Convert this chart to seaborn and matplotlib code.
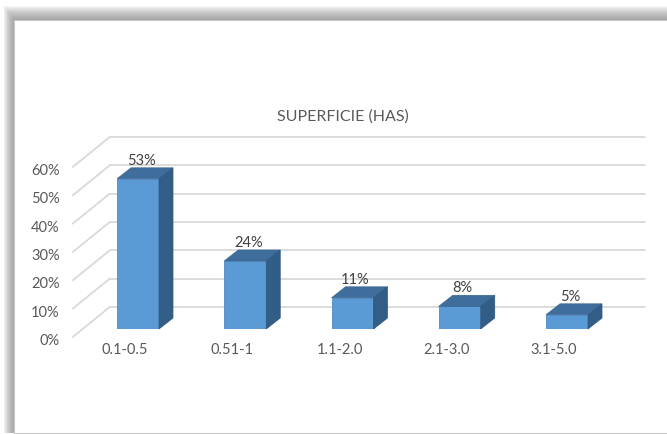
import numpy as np
import pandas as pd
import matplotlib
matplotlib.use("Agg")
import matplotlib.pyplot as plt
import matplotlib.transforms as mtransforms
from matplotlib.patches import Polygon, Rectangle
import seaborn as sns

categories = ["0.1-0.5", "0.51-1", "1.1-2.0", "2.1-3.0", "3.1-5.0"]
shares = [53, 24, 11, 8, 5]
y_ticks = [0, 10, 20, 30, 40, 50, 60]
title = "SUPERFICIE (HAS)"

df = pd.DataFrame({"rango": categories, "pct": shares})

sns.set_theme(style="white")
plt.rcParams["font.family"] = ["Lato", "DejaVu Sans"]

W, H = 667, 435
fig = plt.figure(figsize=(W / 100, H / 100), dpi=100)
fig.patch.set_facecolor("white")

def px_box(x0, y0, x1, y1):
    # pixel box (top-left origin) -> figure fraction rectangle
    return (x0 / W, 1 - y1 / H, (x1 - x0) / W, (y1 - y0) / H)

# soft drop shadow round the chart frame (top and left)
for k in range(15):
    x, y, w, h = px_box(14 - 0.75 * k, 21 - k, W + 20, H - 1)
    fig.patches.append(Rectangle((x, y), w, h, transform=fig.transFigure,
                                 facecolor="#7a7a7a", alpha=0.065, edgecolor="none", zorder=-3))
x, y, w, h = px_box(14, 21, W + 5, H - 1.5)
fig.patches.append(Rectangle((x, y), w, h, transform=fig.transFigure,
                             facecolor="white", edgecolor="#c8c8c8", lw=0.8, zorder=-2))

# axes placed so bar plane: x=0 -> 138px, step 107.25px; y=0 -> 330px, 60% -> 160px
left_px = 138 - 0.6 * 107.25
right_px = 138 + 4.75 * 107.25
ax = fig.add_axes([left_px / W, (H - 330) / H, (right_px - left_px) / W, 170 / H])
ax.set_zorder(2)

def shift(dx, dy):
    return ax.transData + mtransforms.ScaledTranslation(dx / 100, dy / 100, fig.dpi_scale_trans)

sns.barplot(data=df, x="rango", y="pct", color="#5b9bd5", width=42 / 107.25,
            saturation=1, ax=ax, zorder=3, edgecolor="#4f8ac4", linewidth=0.6)
ax.set_facecolor("none")
ax.set_xlim(-0.6, 4.75)
ax.set_ylim(0, 60)
ax.axis("off")

back = shift(20, 22)
front = shift(-17, -8)
grid_c = "#d9d9d9"

for v in y_ticks:
    ax.plot([-0.45, 4.54], [v, v], color=grid_c, lw=1.3, transform=back, clip_on=False, zorder=1)
    p0 = front.transform((-0.45, v))
    p1 = back.transform((-0.45, v))
    fig.add_artist(plt.Line2D([p0[0], p1[0]], [p0[1], p1[1]], color=grid_c, lw=1.3,
                              transform=None, zorder=1))
    ax.text(-0.45, v, f"{v}%", transform=shift(-30, -11), ha="right", va="center",
            fontsize=10.5, color="#595959")

ddx, ddy = 14, 11
for bar in ax.patches:
    bx, bw, bh = bar.get_x(), bar.get_width(), bar.get_height()
    tl = ax.transData.transform((bx, bh))
    tr = ax.transData.transform((bx + bw, bh))
    br = ax.transData.transform((bx + bw, 0))
    off = np.array([ddx, ddy])
    top = Polygon([tl, tr, tr + off, tl + off], closed=True, transform=None,
                  facecolor="#3f6e9c", edgecolor="#3a6691", lw=0.5, zorder=4)
    side = Polygon([br, tr, tr + off, br + off], closed=True, transform=None,
                   facecolor="#325d87", edgecolor="#2f5880", lw=0.5, zorder=4)
    fig.add_artist(top)
    fig.add_artist(side)
    ax.text(bx + bw / 2, bh, f"{int(round(bh))}%", transform=shift(3, ddy + 1),
            ha="center", va="bottom", fontsize=10.5, color="#404040", zorder=5)

for i, c in enumerate(categories):
    ax.text(i, 0, c, transform=shift(-13, -20), ha="center", va="center",
            fontsize=10.5, color="#595959")

fig.text(343 / W, 1 - 117 / H, title, ha="center", va="center", fontsize=11.5, color="#595959")

fig.savefig("out.png", dpi=100)
